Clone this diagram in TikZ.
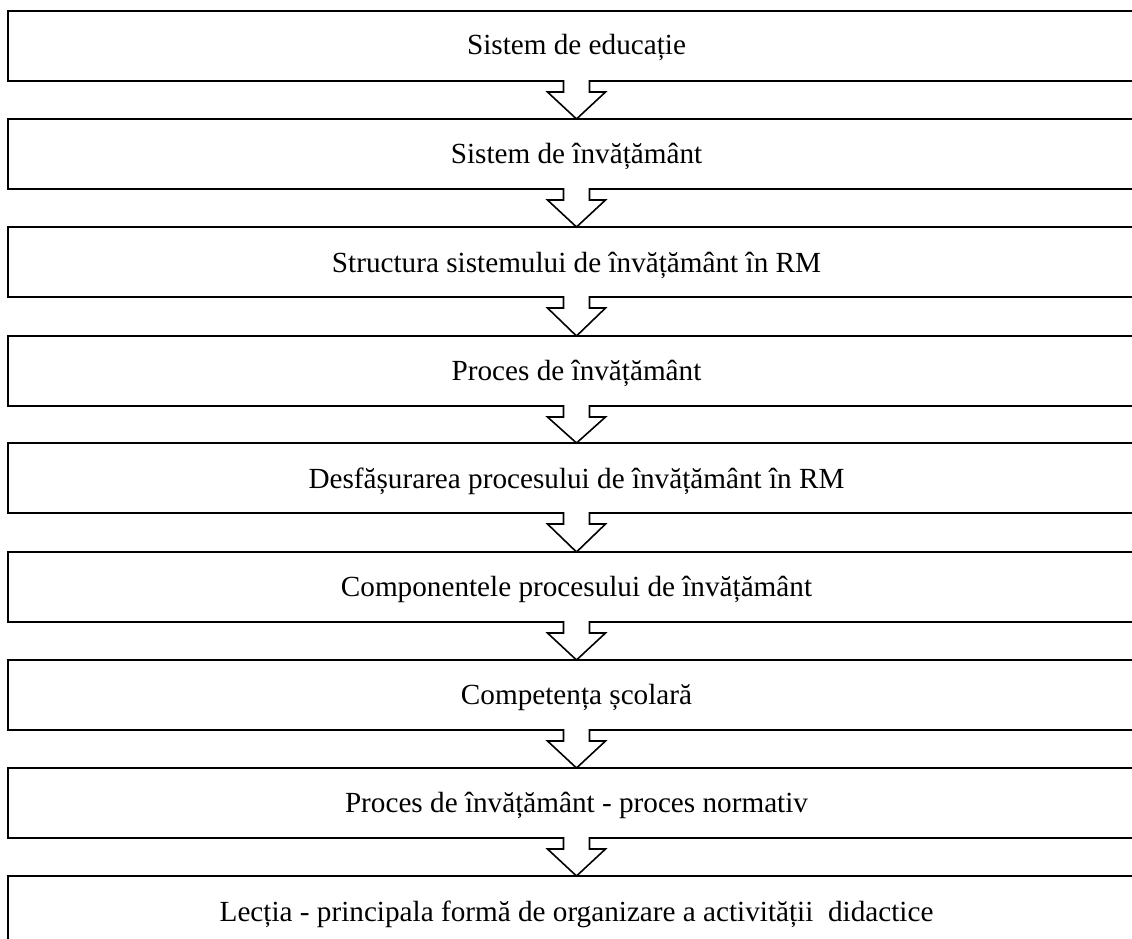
\documentclass[tikz,border=0pt]{standalone}
\usepackage{fontspec}
\setmainfont{Liberation Serif}
\usetikzlibrary{calc}
\tikzset{
  box/.style={draw=black, line width=1.6pt, minimum width=1137pt, minimum height=70pt,
    inner sep=0pt, outer sep=0pt, anchor=north west},
  lbl/.style={anchor=base, inner sep=0pt, font=\fontsize{29.2}{35}\selectfont},
  arrline/.style={draw=black, line width=1.6pt, line join=miter},
}
\newcommand\blockarrow[2]{%
  \fill[white] ($(#1.south)+(-13,-1.2)$) -- ($(#1.south)+(-13,11)$) -- ($(#1.south)+(-29,11)$)
    -- (#2.north) -- ($(#1.south)+(29,11)$) -- ($(#1.south)+(13,11)$) -- ($(#1.south)+(13,-1.2)$) -- cycle;
  \draw[arrline] ($(#1.south)+(-13,-0.8)$) -- ($(#1.south)+(-13,11)$) -- ($(#1.south)+(-29,11)$)
    -- (#2.north) -- ($(#1.south)+(29,11)$) -- ($(#1.south)+(13,11)$) -- ($(#1.south)+(13,-0.8)$);
}
\begin{document}
\begin{tikzpicture}[x=1pt,y=-1pt]
\useasboundingbox (0,0) rectangle (1132,939);
\clip (0,0) rectangle (1132,939);
\fill[white] (0,0) rectangle (1132,939);
\node[box] (b1) at (8,11) {};
\node[box] (b2) at (8,119) {};
\node[box] (b3) at (8,227) {};
\node[box] (b4) at (8,336) {};
\node[box] (b5) at (8,443) {};
\node[box] (b6) at (8,552) {};
\node[box] (b7) at (8,660) {};
\node[box] (b8) at (8,768) {};
\node[box] (b9) at (8,876) {};
\blockarrow{b1}{b2}
\blockarrow{b2}{b3}
\blockarrow{b3}{b4}
\blockarrow{b4}{b5}
\blockarrow{b5}{b6}
\blockarrow{b6}{b7}
\blockarrow{b7}{b8}
\blockarrow{b8}{b9}
\node[lbl] (t1) at (576.5,55) {Sistem de educație};
\node[lbl] (t2) at (576.5,163) {Sistem de învățământ};
\node[lbl] (t3) at (576.5,272) {Structura sistemului de învățământ în RM};
\node[lbl] (t4) at (576.5,380) {Proces de învățământ};
\node[lbl] (t5) at (576.5,488) {Desfășurarea procesului de învățământ în RM};
\node[lbl] (t6) at (576.5,596) {Componentele procesului de învățământ};
\node[lbl] (t7) at (576.5,704) {Competența școlară};
\node[lbl] (t8) at (576.5,812) {Proces de învățământ - proces normativ};
\node[lbl] (t9) at (576.5,921) {Lecția - principala formă de organizare a activității\ \ didactice};
\end{tikzpicture}
\end{document}
